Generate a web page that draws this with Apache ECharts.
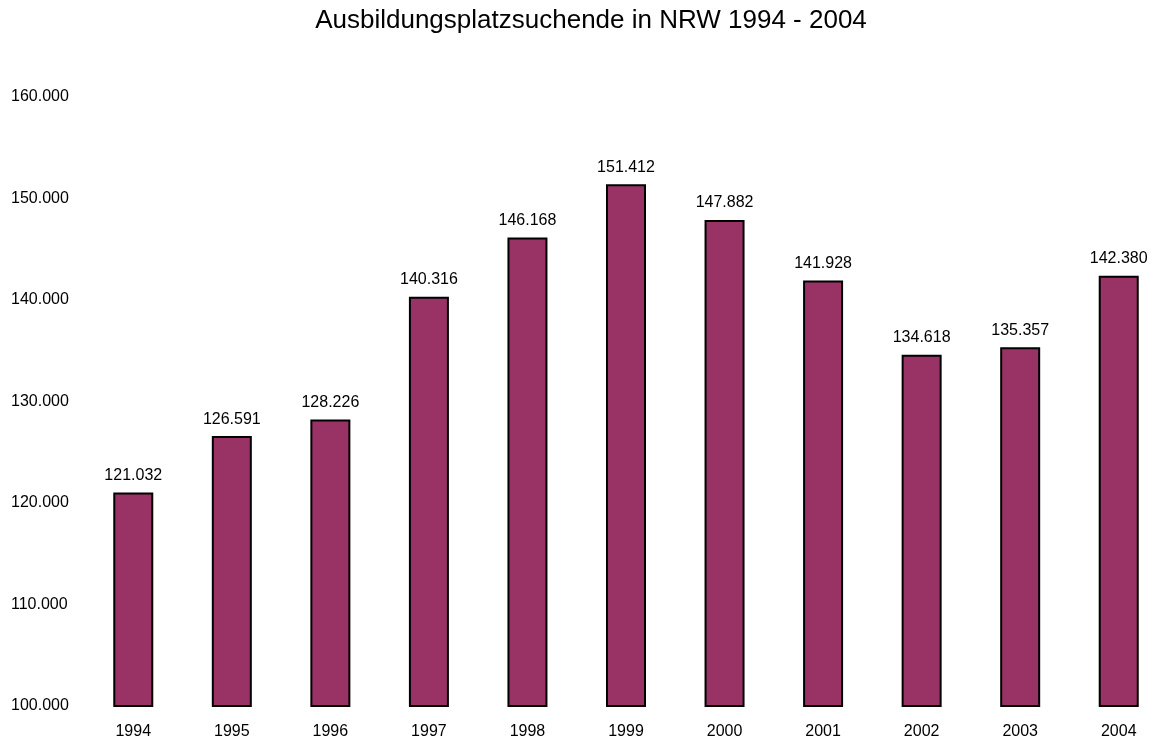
<!DOCTYPE html>
<html>
<head>
<meta charset="utf-8">
<script src="https://cdn.jsdelivr.net/npm/echarts@6/dist/echarts.min.js"></script>
<style>
html,body{margin:0;padding:0;background:#fff;overflow:hidden;}
#chart{width:1170px;height:740px;}
</style>
</head>
<body>
<div id="chart"></div>
<script>
const titleText = 'Ausbildungsplatzsuchende in NRW 1994 - 2004';
const years = ['1994','1995','1996','1997','1998','1999','2000','2001','2002','2003','2004'];
const seekers = [121032,126591,128226,140316,146168,151412,147882,141928,134618,135357,142380];

function fmt(v){
  const s = String(Math.round(v));
  return s.replace(/\B(?=(\d{3})+(?!\d))/g, '.');
}

const chart = echarts.init(document.getElementById('chart'), null, {renderer:'canvas'});
const font = '"Liberation Sans", Arial, Helvetica, sans-serif';
chart.setOption({
  animation:false,
  backgroundColor:'#ffffff',
  graphic:[{
    type:'text',
    x:591, y:8,
    style:{text:titleText, textAlign:'center', textVerticalAlign:'top', font:'normal 26px ' + font, fill:'#000'}
  }],
  grid:{left:84, right:2, top:97, bottom:33, containLabel:false},
  xAxis:{
    type:'category',
    data:years,
    axisLine:{show:false},
    axisTick:{show:false},
    axisLabel:{fontFamily:font, fontSize:16, color:'#000', margin:18}
  },
  yAxis:{
    type:'value',
    min:100000, max:160000, interval:10000,
    splitLine:{show:false},
    axisLine:{show:false},
    axisTick:{show:false},
    axisLabel:{fontFamily:font, fontSize:16, color:'#000', align:'left', margin:73, formatter:fmt}
  },
  series:[{
    type:'bar',
    data:seekers,
    barWidth:40,
    itemStyle:{color:'#993366', borderColor:'#000', borderWidth:2},
    label:{show:true, position:'top', distance:9, fontFamily:font, fontSize:16, color:'#000', formatter:p=>fmt(p.value)}
  }]
});
</script>
</body>
</html>
